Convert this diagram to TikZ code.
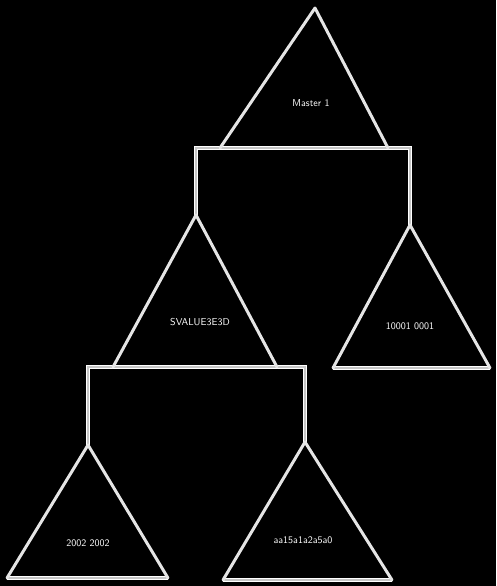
\documentclass[tikz,border=0pt]{standalone}
\usetikzlibrary{calc}
\tikzset{
  triedge/.style={draw=gray!20, line width=3pt, line join=round, line cap=round},
  conn/.style={draw=white, line width=1pt, double=gray!45, double distance=2.2pt},
  lbl/.style={text=white, font=\sffamily\fontsize{10}{11}\selectfont, inner sep=1pt},
  pt/.style={coordinate}
}
\begin{document}
\begin{tikzpicture}[x=1pt,y=-1pt]
\fill[black] (0,0) rectangle (496,586);
\useasboundingbox (0,0) rectangle (496,586);
% corners
\node[pt] (A1) at (315,8) {};   \node[pt] (L1) at (220,148) {}; \node[pt] (R1) at (388,148) {};
\node[pt] (A2) at (196,215) {}; \node[pt] (L2) at (113,367) {}; \node[pt] (R2) at (277,367) {};
\node[pt] (A3) at (410,225) {}; \node[pt] (L3) at (333,368) {}; \node[pt] (R3) at (490,368) {};
\node[pt] (A4) at (88,445) {};  \node[pt] (L4) at (7,578) {};   \node[pt] (R4) at (168,578) {};
\node[pt] (A5) at (305,442) {}; \node[pt] (L5) at (223,580) {}; \node[pt] (R5) at (392,580) {};
% bend points of connectors
\node[pt] (c1) at (196,148) {}; \node[pt] (c2) at (410,148) {};
\node[pt] (c3) at (88,367) {};  \node[pt] (c4) at (305,367) {};
% connectors (drawn first)
\draw[conn] (L1) -- (c1) -- (A2);
\draw[conn] (R1) -- (c2) -- (A3);
\draw[conn] (L2) -- (c3) -- (A4);
\draw[conn] (R2) -- (c4) -- (A5);
% bases
\draw[conn] (L1) -- (R1);
\draw[conn] (L2) -- (R2);
\draw[conn] (L3) -- (R3);
\draw[conn] (L4) -- (R4);
\draw[conn] (L5) -- (R5);
% triangle sides
\draw[triedge] (L1) -- (A1) -- (R1);
\draw[triedge] (L2) -- (A2) -- (R2);
\draw[triedge] (L3) -- (A3) -- (R3);
\draw[triedge] (L4) -- (A4) -- (R4);
\draw[triedge] (L5) -- (A5) -- (R5);
% labels
\node[lbl] (t1) at (311,103) {Master 1};
\node[lbl] (t2) at (200,322) {SVALUE3E3D};
\node[lbl] (t3) at (410,326) {10001 0001};
\node[lbl] (t4) at (88,543) {2002 2002};
\node[lbl] (t5) at (303,540) {aa15a1a2a5a0};
\end{tikzpicture}
\end{document}
